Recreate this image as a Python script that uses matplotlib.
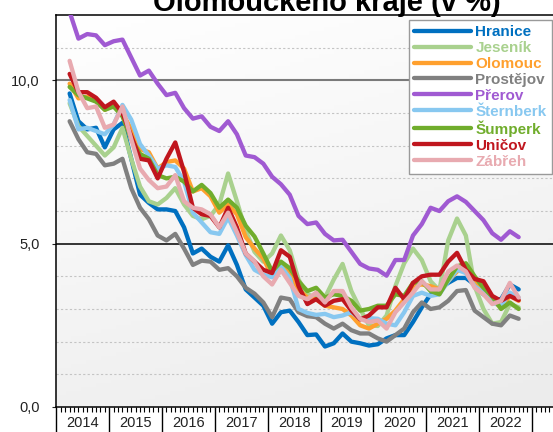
import numpy as np
import matplotlib
matplotlib.use("Agg")
import matplotlib.pyplot as plt
from matplotlib.ticker import FuncFormatter, FixedLocator
from matplotlib.transforms import blended_transform_factory

plt.rcParams['font.family'] = ['Liberation Sans', 'DejaVu Sans']

# months since Jan 2014, one reading every second month (Apr 2014 .. Oct 2022)
month_idx = np.arange(3, 106, 2)
x = 2014 + month_idx / 12

hranice = [9.6, 8.75, 8.5, 8.55, 7.95, 8.5, 8.7, 7.6, 6.5, 6.25, 6.05, 6.05, 6.0, 5.5,
           4.7, 4.85, 4.6, 4.45, 4.95, 4.35, 3.6, 3.35, 3.1, 2.55, 2.9, 2.95, 2.6, 2.2,
           2.22, 1.85, 1.95, 2.25, 2.0, 1.95, 1.88, 1.92, 2.1, 2.2, 2.2, 2.6,
           3.05, 3.45, 3.6, 3.8, 3.95, 3.95, 3.75, 3.45, 3.3, 3.3, 3.75, 3.6]
jesenik = [9.3, 8.6, 8.3, 8.0, 7.7, 7.95, 8.55, 7.6, 6.75, 6.3, 6.2, 6.4, 6.7, 6.2,
           5.85, 5.75, 5.85, 6.2, 7.15, 6.3, 5.4, 4.75, 4.45, 4.7, 5.25, 4.8, 3.9, 3.45,
           3.35, 3.35, 3.9, 4.38, 3.55, 3.0, 2.5, 2.48, 2.8, 3.7, 4.4, 4.85,
           4.5, 3.85, 3.57, 5.1, 5.77, 5.25, 3.7, 3.0, 2.55, 2.6, 3.15, 3.05]
olomouc = [9.9, 9.45, 9.5, 9.4, 9.1, 9.25, 9.0, 8.5, 7.9, 7.8, 7.3, 7.5, 7.55, 7.3,
           6.6, 6.7, 6.45, 5.95, 6.2, 5.9, 5.2, 4.85, 4.55, 4.0, 4.4, 4.1, 3.6, 3.35,
           3.3, 3.1, 3.05, 3.0, 2.8, 2.5, 2.4, 2.55, 2.7, 2.95, 3.3, 3.7,
           3.75, 3.7, 3.6, 3.85, 4.15, 4.25, 3.8, 3.55, 3.25, 3.05, 3.4, 3.25]
prostejov = [8.75, 8.2, 7.8, 7.75, 7.4, 7.45, 7.6, 6.7, 6.1, 5.75, 5.25, 5.1, 5.3, 4.85,
             4.35, 4.48, 4.45, 4.2, 4.25, 4.0, 3.65, 3.47, 3.2, 2.75, 3.35, 3.3, 2.9, 2.78,
             2.75, 2.55, 2.4, 2.55, 2.35, 2.25, 2.25, 2.1, 2.0, 2.2, 2.4, 2.9,
             3.2, 3.0, 3.05, 3.25, 3.55, 3.58, 2.95, 2.75, 2.55, 2.5, 2.8, 2.7]
prerov = [12.1, 11.28, 11.42, 11.38, 11.08, 11.2, 11.25, 10.7, 10.15, 10.3, 9.9, 9.55, 9.62, 9.15,
          8.83, 8.9, 8.58, 8.45, 8.75, 8.35, 7.7, 7.65, 7.45, 7.05, 6.82, 6.5, 5.85, 5.6,
          5.65, 5.3, 5.1, 5.12, 4.75, 4.38, 4.24, 4.2, 4.02, 4.5, 4.5, 5.25,
          5.6, 6.1, 6.0, 6.3, 6.45, 6.28, 6.0, 5.72, 5.32, 5.12, 5.38, 5.2]
sternberk = [9.4, 8.5, 8.55, 8.45, 8.35, 8.65, 9.25, 8.8, 8.05, 7.7, 7.3, 7.4, 7.35, 6.9,
             5.95, 5.65, 5.35, 5.3, 5.8, 5.25, 4.65, 4.2, 4.05, 3.97, 4.3, 3.95, 3.0, 2.88,
             2.82, 2.85, 2.75, 2.8, 2.9, 2.7, 2.72, 2.7, 2.55, 2.5, 2.9, 3.4,
             3.5, 3.4, 3.45, 3.85, 4.2, 4.1, 3.7, 3.5, 3.2, 3.1, 3.5, 3.35]
sumperk = [9.8, 9.55, 9.45, 9.35, 9.1, 9.2, 8.9, 8.2, 7.75, 7.6, 7.1, 7.0, 7.05, 6.9,
           6.6, 6.8, 6.55, 6.1, 6.35, 6.1, 5.55, 5.22, 4.7, 4.15, 4.45, 4.25, 3.85, 3.55,
           3.65, 3.35, 3.45, 3.4, 3.25, 2.95, 3.0, 3.1, 3.1, 3.45, 3.4, 3.8,
           3.85, 3.55, 3.45, 3.9, 4.3, 4.4, 4.0, 3.65, 3.38, 3.0, 3.2, 3.0]
unicov = [10.2, 9.64, 9.64, 9.47, 9.18, 9.35, 9.0, 8.3, 7.6, 7.55, 7.0, 7.6, 8.1, 7.2,
          6.1, 5.9, 5.85, 5.5, 6.1, 5.5, 4.7, 4.45, 4.2, 4.1, 4.8, 4.6, 3.7, 3.15,
          3.3, 3.1, 3.25, 3.3, 2.95, 2.68, 2.8, 3.05, 3.05, 3.65, 3.3, 3.8,
          4.0, 4.05, 4.05, 4.45, 4.72, 4.2, 3.92, 3.85, 3.4, 3.25, 3.4, 3.27]
zabreh = [10.6, 9.65, 9.15, 9.2, 8.55, 8.65, 9.2, 8.2, 7.3, 6.95, 6.7, 6.75, 7.1, 6.3,
          6.1, 6.05, 5.9, 5.5, 5.95, 5.35, 4.7, 4.45, 4.0, 3.75, 4.2, 3.8, 3.4, 3.3,
          3.5, 3.2, 3.55, 3.55, 3.05, 2.7, 2.6, 2.65, 2.4, 2.9, 3.2, 3.5,
          3.85, 3.6, 3.6, 4.15, 4.33, 4.15, 3.65, 3.45, 3.15, 3.25, 3.8, 3.35]

names = ['Hranice', 'Jeseník', 'Olomouc', 'Prostějov', 'Přerov',
         'Šternberk', 'Šumperk', 'Uničov', 'Zábřeh']
series = [hranice, jesenik, olomouc, prostejov, prerov, sternberk, sumperk, unicov, zabreh]
colors = ['#0070c0', '#a9d18e', '#ffa02e', '#808080', '#a05ad2',
          '#88c8f0', '#70ad2c', '#c0161e', '#e8aab0']
years = list(range(2014, 2023))

fig = plt.figure(figsize=(5.53, 4.32), dpi=100)
ax = fig.add_axes([0.102, 0.058, 0.898, 0.907])
x0, x1 = 2014, 2023.4

# light gradient behind the plot
gy, gx = np.mgrid[0:1:100j, 0:1:100j]
shade = 1 - 0.075 * (0.75 * gy + 0.25 * gx)
ax.imshow(np.dstack([shade] * 3), extent=[x0, x1, 0, 12], origin='upper',
          aspect='auto', zorder=0)

ax.set_yticks(range(1, 12), minor=True)
ax.grid(which='minor', axis='y', color='#c4c4c4', ls=(0, (2, 2)), lw=0.8, zorder=1)
ax.axhline(10, color='#7a7a7a', lw=1.5, zorder=1)
ax.axhline(5, color='black', lw=1.1, zorder=1)

for name, vals, c in zip(names, series, colors):
    ax.plot(x, vals, color=c, lw=3.1, label=name, solid_joinstyle='round',
            solid_capstyle='round', zorder=3)

ax.set_xlim(x0, x1)
ax.set_ylim(0, 12)
ax.set_yticks([0, 5, 10])
ax.yaxis.set_major_formatter(FuncFormatter(lambda v, p: f'{v:.1f}'.replace('.', ',')))
ax.tick_params(axis='y', which='major', length=3, pad=9, labelsize=10.5, colors='#222222')
ax.tick_params(axis='y', which='minor', length=0)

ax.set_xticks(list(range(2014, 2024)))
ax.xaxis.set_minor_locator(FixedLocator(np.arange(2014, 2023.4, 1 / 12)))
ax.set_xticklabels([])
ax.tick_params(axis='x', which='major', length=18, width=1, direction='out')
ax.tick_params(axis='x', which='minor', length=3.5, width=0.8, direction='out')
trans = blended_transform_factory(ax.transData, ax.transAxes)
for yr in years:
    ax.text(yr + 0.5, -0.041, str(yr), transform=trans, ha='center', va='center',
            fontsize=10.5, color='#222222')

ax.spines['right'].set_visible(False)
for s in ['left', 'bottom', 'top']:
    ax.spines[s].set_linewidth(1.1)

leg = ax.legend(loc='upper right', bbox_to_anchor=(0.998, 1 - 20 / 432),
                bbox_transform=fig.transFigure,
                prop={'weight': 'bold', 'size': 11}, handlelength=3.7,
                handletextpad=0.3, labelspacing=0.12, borderpad=0.35,
                borderaxespad=0, fancybox=False, edgecolor='#9a9a9a',
                framealpha=1, labelcolor='linecolor')
leg.get_frame().set_linewidth(1.0)

fig.text(0.591, 0.9745, 'Olomouckého kraje (v %)', ha='center', va='baseline',
         fontsize=21, weight='bold')

fig.savefig('out.png', dpi=100)
